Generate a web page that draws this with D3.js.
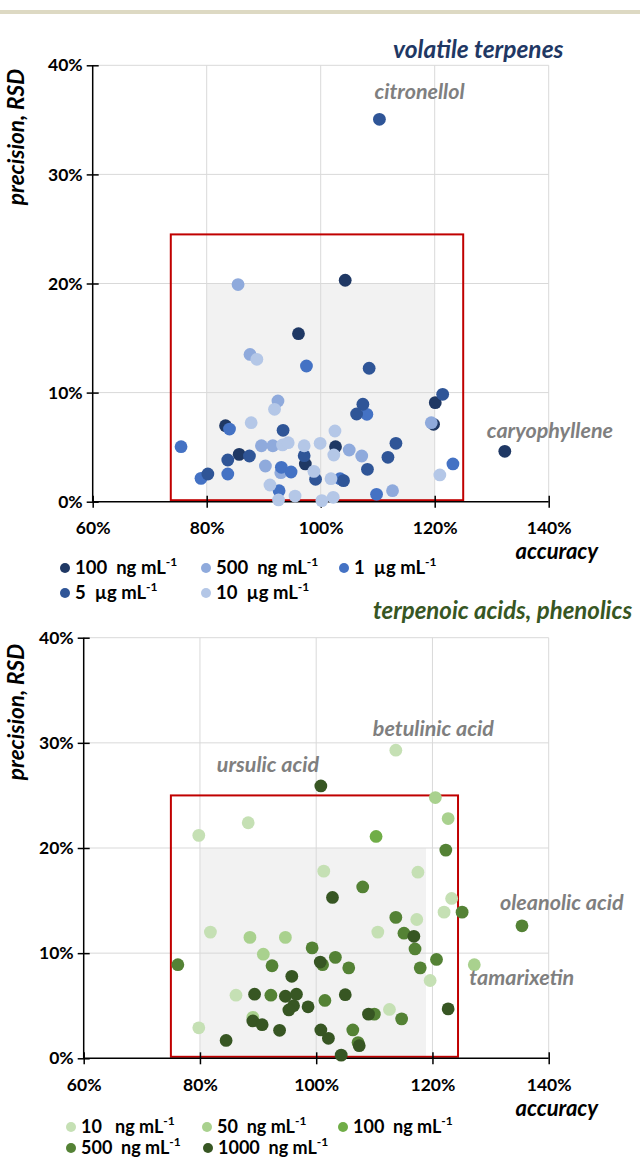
<!DOCTYPE html>
<html><head><meta charset="utf-8">
<script src="https://cdn.jsdelivr.net/npm/d3@7"></script>
<style>body{margin:0;background:#fff}svg{display:block}text{font-family:Lato,"Open Sans",sans-serif}</style>
</head><body><svg id="c" width="640" height="1159"></svg>
<script>
// ---------- data (accuracy %, RSD %) ----------
const xTicks = [60, 80, 100, 120, 140];
const yTicks = [0, 10, 20, 30, 40];

const vtNames = ["100  ng mL", "500  ng mL", "1  µg mL", "5  µg mL", "10  µg mL"];
const vtColors = ["#1F3864", "#8FAADC", "#4472C4", "#2F5597", "#B4C7E7"];
const vt100ng = [[104.3,20.3],[96.1,15.4],[83.3,6.97],[102.6,5.04],[85.7,4.34],[97.3,3.46],[120.1,9.08],[119.8,7.09],[132.3,4.62]];
const vt500ng = [[85.5,19.9],[87.6,13.5],[92.5,9.23],[89.6,5.13],[91.6,5.13],[105.0,4.74],[90.3,3.27],[93.0,2.66],[119.4,7.24],[107.2,4.19],[112.6,1.01]];
const vt1ug = [[97.5,12.44],[84.0,6.66],[75.5,5.04],[93.1,3.15],[94.8,2.72],[79.0,2.14],[83.7,2.54],[92.7,1.01],[108.1,8.01],[103.4,2.11],[109.8,0.68],[123.2,3.46]];
const vt5ug = [[110.3,35.05],[93.4,6.54],[87.5,4.19],[83.7,3.82],[97.1,4.22],[99.1,2.05],[104.0,1.93],[80.2,2.54],[108.5,12.23],[121.4,9.84],[107.4,8.93],[106.3,8.04],[113.2,5.35],[111.8,4.07],[108.2,2.97]];
const vt10ug = [[88.8,13.05],[91.9,8.47],[87.8,7.24],[93.3,5.2],[94.3,5.41],[97.1,5.13],[99.9,5.35],[102.5,6.48],[102.3,4.28],[98.8,2.78],[101.8,2.11],[91.1,1.53],[92.6,0.16],[95.5,0.52],[100.2,0.1],[102.2,0.4],[120.9,2.45]];
const vtLabels = [["citronellol", 110.3, 35.05], ["caryophyllene", 132.3, 4.62]];
const vtRed = [73.7, 125, 0, 24.5];
const vtGray = [80, 120, 0, 20];

const taNames = ["10   ng mL", "50  ng mL", "100  ng mL", "500  ng mL", "1000  ng mL"];
const taColors = ["#C5E0B4", "#A9D18E", "#70AD47", "#548235", "#375623"];
const ta10 = [[88.3,22.4],[79.8,21.2],[113.7,29.3],[101.3,17.8],[81.8,12.0],[86.2,6.0],[79.8,2.9],[117.5,17.7],[123.3,15.2],[122.0,13.9],[117.3,13.2],[110.6,12.0],[119.6,7.4],[112.6,4.65]];
const ta50 = [[120.5,24.8],[122.7,22.8],[88.6,11.5],[94.7,11.5],[90.9,9.9],[127.2,8.9],[89.1,3.9]];
const ta100 = [[110.3,21.1]];
const ta500 = [[122.3,19.8],[108.0,16.3],[125.1,13.9],[135.4,12.6],[113.7,13.4],[115.1,11.9],[117.0,10.4],[120.7,9.4],[117.9,8.6],[99.3,10.5],[76.2,8.9],[92.4,8.8],[101.1,8.9],[103.3,9.6],[105.6,8.6],[92.2,6.0],[101.5,5.5],[110.0,4.2],[114.7,3.75],[106.3,2.7],[107.2,1.5]];
const ta1000 = [[100.8,25.9],[102.8,15.3],[116.8,11.6],[100.7,9.15],[95.8,7.8],[89.4,6.1],[94.7,5.9],[96.6,6.1],[96.1,5.0],[95.3,4.6],[98.6,4.9],[105.0,6.05],[89.1,3.55],[90.7,3.2],[93.7,2.66],[100.8,2.7],[102.1,1.9],[107.4,1.2],[84.5,1.7],[104.3,0.3],[122.7,4.7],[109.0,4.2]];
const taLabels = [["betulinic acid",113.7,29.3],["ursulic acid",100.8,25.9],["oleanolic acid",135.4,12.6],["tamarixetin",127.2,8.9]];
const taRed = [75, 124.4, 0, 25];
const taGray = [80, 118.9, 0, 20];

// ---------- drawing ----------
const svg = d3.select("#c");
svg.append("rect").attr("x",0).attr("y",10).attr("width",640).attr("height",4).attr("fill","#DDD9C3");

function panel(o) {
  const x = d3.scaleLinear().domain([60,140]).range([o.x0, o.x1]);
  const y = d3.scaleLinear().domain([0,40]).range([o.y1, o.y0]);
  const g = svg.append("g");
  g.append("rect").attr("x", x(o.gray[0])).attr("y", y(o.gray[3]))
    .attr("width", x(o.gray[1]) - x(o.gray[0])).attr("height", y(o.gray[2]) - y(o.gray[3]))
    .attr("fill", "#F2F2F2");
  g.selectAll(".gx").data(xTicks.slice(1)).join("line")
    .attr("x1", d => x(d)).attr("x2", d => x(d)).attr("y1", y(0)).attr("y2", y(40))
    .attr("stroke", "#D9D9D9").attr("stroke-width", 1);
  g.selectAll(".gy").data(yTicks.slice(1)).join("line")
    .attr("y1", d => y(d)).attr("y2", d => y(d)).attr("x1", x(60)).attr("x2", x(140))
    .attr("stroke", "#D9D9D9").attr("stroke-width", 1);
  g.append("rect").attr("x", x(o.red[0])).attr("y", y(o.red[3]))
    .attr("width", x(o.red[1]) - x(o.red[0])).attr("height", y(o.red[2]) - y(o.red[3]) - 1.5)
    .attr("fill", "none").attr("stroke", "#C00000").attr("stroke-width", 2);
  const ax = g.append("g").attr("transform", `translate(0,${y(0)})`)
    .call(d3.axisBottom(x).tickValues(xTicks).tickSize(6).tickFormat(d => d + "%"));
  ax.selectAll(".tick line").attr("y1", -6).attr("y2", 6).attr("stroke","#000").attr("stroke-width",1.5);
  ax.select(".domain").attr("stroke","#000").attr("stroke-width",1.5).attr("d", `M${x(60)},0H${x(140)}`);
  ax.selectAll(".tick text").attr("y", o.xLabDy).attr("font-size", 17.5).attr("font-weight", 700)
    .attr("fill","#000").attr("font-family","Lato");
  const ay = g.append("g").attr("transform", `translate(${x(60)},0)`)
    .call(d3.axisLeft(y).tickValues(yTicks).tickSize(6).tickFormat(d => d + "%"));
  ay.selectAll(".tick line").attr("x1", -6).attr("x2", 6).attr("stroke","#000").attr("stroke-width",1.5);
  ay.select(".domain").attr("stroke","#000").attr("stroke-width",1.5).attr("d", `M0,${y(40)}V${y(0)}`);
  ay.selectAll(".tick text").attr("x", -10).attr("font-size", 17.5).attr("font-weight", 700)
    .attr("fill","#000").attr("font-family","Lato");
  o.series.forEach((s, i) => {
    g.append("g").selectAll("circle").data(s).join("circle")
      .attr("cx", d => x(d[0])).attr("cy", d => y(d[1])).attr("r", 6.4)
      .attr("fill", o.colors[i]);
  });
  o.labels.forEach((l, i) => {
    const p = o.labelPos[i];
    g.append("text").attr("x", x(l[1]) + p[0]).attr("y", y(l[2]) + p[1])
      .attr("font-size", 21.5).attr("font-weight", 700).attr("font-style","italic")
      .attr("fill", "#7F7F7F").text(l[0]);
  });
  g.append("text").attr("x", o.titleX).attr("y", o.titleY).attr("font-size", o.titleSize)
    .attr("font-weight", 700).attr("font-style", "italic").attr("fill", o.titleColor).text(o.title);
  g.append("text").attr("transform", `translate(${o.yTitleX},${o.yTitleY}) rotate(-90)`)
    .attr("text-anchor","middle").attr("font-size", 22.5).attr("font-weight", 700).attr("font-style","italic")
    .attr("fill","#000").text("precision, RSD");
  g.append("text").attr("x", 598).attr("y", o.accY).attr("text-anchor","end").attr("font-size", 22)
    .attr("font-weight", 700).attr("font-style","italic").attr("fill","#000").text("accuracy");
  o.names.forEach((n, i) => {
    const lp = o.legendPos[i];
    g.append("circle").attr("cx", lp[0]).attr("cy", lp[1]).attr("r", 5).attr("fill", o.colors[i]);
    const t = g.append("text").attr("x", lp[0] + 10).attr("y", lp[1] + 6).attr("font-size", o.legSize)
      .attr("font-weight", 700).attr("fill", "#000").attr("xml:space","preserve");
    t.append("tspan").text(n);
    t.append("tspan").attr("font-size", 12).attr("dy", -8).text("-1");
  });
}

panel({
  x0: 92.7, x1: 548.7, y0: 65.3, y1: 501.7,
  series: [vt100ng, vt500ng, vt1ug, vt5ug, vt10ug], colors: vtColors, names: vtNames,
  red: vtRed, gray: vtGray, labels: vtLabels, labelPos: [[-5, -20], [-18, -13]],
  title: "volatile terpenes", titleX: 393, titleY: 58, titleSize: 24.5, titleColor: "#1F3864",
  yTitleX: 24, yTitleY: 137, accY: 559, xLabDy: 20, legSize: 18.5,
  legendPos: [[65, 568], [206, 568], [344, 568], [65, 593], [206, 593]]
});
panel({
  x0: 83.7, x1: 548.7, y0: 637.7, y1: 1058.3,
  series: [ta10, ta50, ta100, ta500, ta1000], colors: taColors, names: taNames,
  red: taRed, gray: taGray, labels: taLabels, labelPos: [[-23, -14], [-104, -14], [-22, -16], [-5, 20]],
  title: "terpenoic acids, phenolics", titleX: 373, titleY: 619, titleSize: 24, titleColor: "#375623",
  yTitleX: 24, yTitleY: 712, accY: 1116, xLabDy: 20, legSize: 18,
  legendPos: [[71, 1127], [207, 1127], [343, 1127], [71, 1148], [208, 1148]]
});
</script></body></html>
